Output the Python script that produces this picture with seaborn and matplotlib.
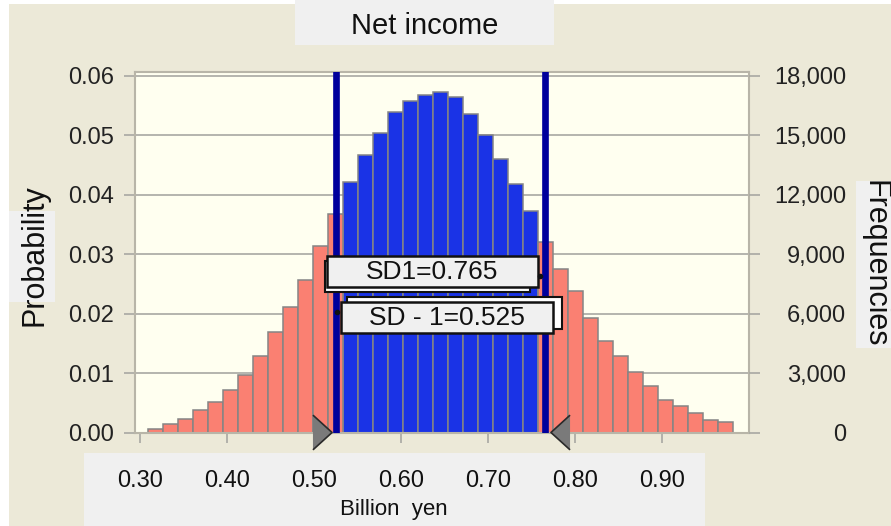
import numpy as np
import matplotlib.pyplot as plt
import matplotlib.transforms as mtransforms
from matplotlib.patches import Rectangle
from matplotlib.lines import Line2D
import seaborn as sns
import pandas as pd

# probability per bin (39 bins)
probs = [
    0.0006, 0.0014, 0.0022, 0.0037, 0.0052, 0.0072, 0.0097, 0.0128, 0.0169,
    0.0211, 0.0256, 0.0313, 0.0367,
    0.0421, 0.0466, 0.0504, 0.0539, 0.0557, 0.0568, 0.0572, 0.0564, 0.0535,
    0.0500, 0.0459, 0.0417, 0.0372,
    0.0320, 0.0275, 0.0238, 0.0193, 0.0153, 0.0128, 0.0101, 0.0079, 0.0055,
    0.0045, 0.0033, 0.0021, 0.0018,
]
bin_lo = 0.3095
bin_hi = 0.982
sd_lo = 0.525
sd_hi = 0.765
trials = 300000

x_ticks = [0.30, 0.40, 0.50, 0.60, 0.70, 0.80, 0.90]
x_tick_labels = ["0.30", "0.40", "0.50", "0.60", "0.70", "0.80", "0.90"]
y_ticks = [0.00, 0.01, 0.02, 0.03, 0.04, 0.05, 0.06]
freq_ticks = [0, 3000, 6000, 9000, 12000, 15000, 18000]

W, H = 891, 526
BG = "#ECE9D8"
BOX = "#F0F0F0"
GRID = "#A8A8A2"

sns.set_theme(style="white")
plt.rcParams["font.family"] = ["Liberation Sans", "DejaVu Sans"]

edges = np.linspace(bin_lo, bin_hi, len(probs) + 1)
df = pd.DataFrame({
    "value": (edges[:-1] + edges[1:]) / 2,
    "prob": probs,
    "region": np.where((edges[:-1] >= sd_lo) & (edges[1:] <= sd_hi), "in", "out"),
})

fig = plt.figure(figsize=(W / 100, H / 100), dpi=100, facecolor=BG)


def px_rect(x0, y0, x1, y1, **kw):
    return Rectangle((x0 / W, 1 - y1 / H), (x1 - x0) / W, (y1 - y0) / H,
                     transform=fig.transFigure, **kw)


# background panels
fig.patches.append(px_rect(0, 0, 9, H, facecolor="white", lw=0, zorder=-2))
fig.patches.append(px_rect(0, 0, W, 4, facecolor="white", lw=0, zorder=-2))
fig.patches.append(px_rect(295, 0, 554, 45, facecolor=BOX, lw=0, zorder=-1))
fig.patches.append(px_rect(9, 211, 55, 302, facecolor=BOX, lw=0, zorder=-1))
fig.patches.append(px_rect(856, 181, W, 348, facecolor=BOX, lw=0, zorder=-1))
fig.patches.append(px_rect(84, 453, 705, H, facecolor=BOX, lw=0, zorder=-1))

ax = fig.add_axes([135 / W, 1 - 432.5 / H, 614 / W, 360.5 / H])
ax.set_facecolor("#FFFFF0")
ax.set_axisbelow(True)

sns.histplot(
    data=df, x="value", weights="prob",
    bins=len(probs), binrange=(bin_lo, bin_hi),
    hue="region", hue_order=["out", "in"],
    palette={"out": "#FA8072", "in": "#1A33E6"},
    alpha=1, edgecolor="#858585", linewidth=1.1,
    legend=False, ax=ax,
)

ax.axvline(sd_lo, color="#00009C", lw=4.8, zorder=4)
ax.axvline(sd_hi, color="#00009C", lw=4.8, zorder=4)

# grab handles at the bottom of the certainty lines
tri_right = [(-0.55, -1), (0.55, 0), (-0.55, 1)]
tri_left = [(0.55, -1), (-0.55, 0), (0.55, 1)]
ax.plot([sd_lo], [0], marker=tri_right, markersize=25, color="#7A7A7A",
        markeredgecolor="#2A2A2A", markeredgewidth=1.2, clip_on=False, zorder=5,
        transform=mtransforms.offset_copy(ax.transData, fig=fig, x=-13.5, y=1, units="dots"))
ax.plot([sd_hi], [0], marker=tri_left, markersize=25, color="#7A7A7A",
        markeredgecolor="#2A2A2A", markeredgewidth=1.2, clip_on=False, zorder=5,
        transform=mtransforms.offset_copy(ax.transData, fig=fig, x=15, y=1, units="dots"))

ax.set_xlim(0.2943, 1.0)
ax.set_ylim(0, 0.0606)
ax.set_yticks(y_ticks, labels=[f"{v:.2f}" for v in y_ticks])
ax.set_xticks(x_ticks, labels=x_tick_labels)
ax.yaxis.grid(True, color=GRID, lw=1.2)
ax.xaxis.grid(False)
for s in ax.spines.values():
    s.set_color("#B8B5A8")
    s.set_linewidth(1.5)
ax.tick_params(axis="y", length=8, width=1.2, color=GRID, pad=7,
               labelsize=17, labelcolor="#222222", left=True)
ax.tick_params(axis="x", length=7, width=1.2, color=GRID, pad=20,
               labelsize=17, labelcolor="#111111", bottom=True)
ax.set_ylabel("")
ax.set_xlabel("Billion  yen", fontsize=16, color="#111111")
ax.xaxis.set_label_coords((394 - 135) / 614, (432.5 - 499) / 360.5)

ax2 = ax.twinx()
ax2.set_ylim(0, 0.0606 * trials)
ax2.set_yticks(freq_ticks, labels=[f"{v:,}" for v in freq_ticks], ha="right")
ax2.tick_params(axis="y", length=8, width=1.2, color=GRID, pad=62,
                labelsize=17, labelcolor="#222222", right=True)
ax2.grid(False)
for s in ax2.spines.values():
    s.set_visible(False)

# axis titles
fig.text(425 / W, 1 - 26 / H, "Net income", fontsize=21, ha="center", va="center", color="#111111")
fig.text(34 / W, 1 - 255 / H, "Probability", fontsize=22, rotation=90,
         ha="center", va="center", color="#111111")
fig.text(875 / W, 1 - 264 / H, "Frequencies", fontsize=22, rotation=270,
         ha="center", va="center", color="#111111")

# certainty labels
fig.patches.append(px_rect(325, 261, 530, 292, facecolor="white", edgecolor="#111111", lw=1.5, zorder=5))
fig.patches.append(px_rect(327, 256, 538, 287, facecolor=BOX, edgecolor="#111111", lw=1.8, zorder=6))
fig.patches.append(px_rect(347, 297, 562, 329, facecolor="white", edgecolor="#111111", lw=1.5, zorder=5))
fig.patches.append(px_rect(341, 302, 553, 333, facecolor=BOX, edgecolor="#111111", lw=1.8, zorder=6))
fig.add_artist(Line2D([540 / W], [1 - 276 / H], marker="o", ms=3, color="#111111",
                      transform=fig.transFigure, zorder=7))
fig.add_artist(Line2D([337 / W], [1 - 312 / H], marker="o", ms=3, color="#111111",
                      transform=fig.transFigure, zorder=7))
fig.text(432 / W, 1 - 272 / H, f"SD1={sd_hi:.3f}", fontsize=19, ha="center", va="center",
         color="#111111", zorder=7)
fig.text(447 / W, 1 - 318 / H, f"SD - 1={sd_lo:.3f}", fontsize=19, ha="center", va="center",
         color="#111111", zorder=7)

fig.savefig("out.png", dpi=100, facecolor=BG)
